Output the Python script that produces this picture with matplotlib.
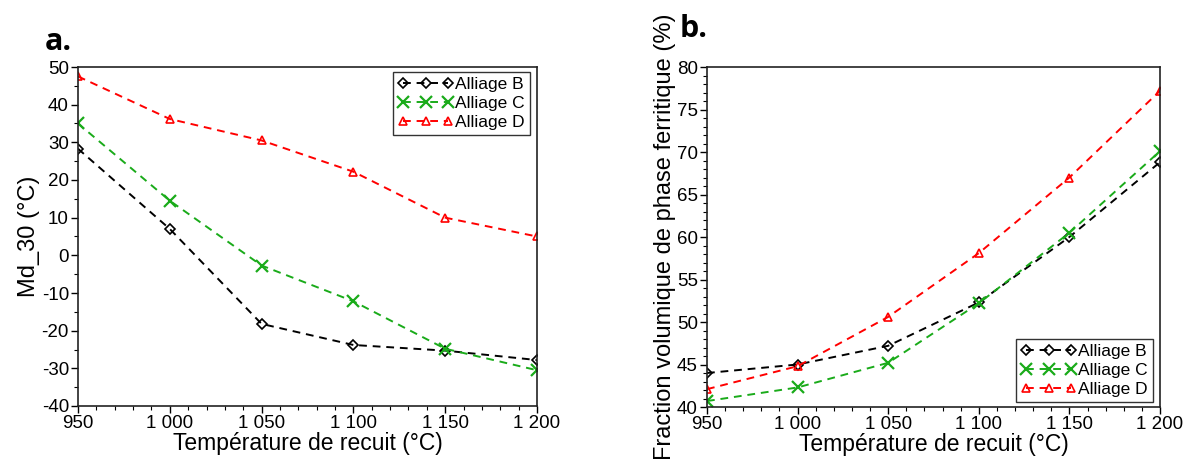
import matplotlib
matplotlib.use("Agg")
import matplotlib.pyplot as plt
from matplotlib.ticker import MultipleLocator, FuncFormatter

plt.rcParams["font.family"] = ["Liberation Sans", "DejaVu Sans"]
plt.rcParams["axes.unicode_minus"] = False

temps = [950, 1000, 1050, 1100, 1150, 1200]
series_names = ["Alliage B", "Alliage C", "Alliage D"]

# panel a: Md_30 (°C)
md30_b = [28.3, 7.0, -18.2, -23.8, -25.3, -27.8]
md30_c = [35.0, 14.5, -2.7, -12.2, -24.8, -30.5]
md30_d = [47.5, 36.2, 30.5, 22.2, 10.0, 5.0]

# panel b: fraction volumique de ferrite (%)
ferr_b = [44.0, 45.0, 47.2, 52.3, 60.0, 68.8]
ferr_c = [40.7, 42.3, 45.2, 52.2, 60.5, 70.1]
ferr_d = [42.1, 44.8, 50.6, 58.1, 67.0, 77.2]

STYLES = [
    dict(color="black", marker="D", ms=5.5, mfc="none", mew=1.2),
    dict(color="#1aab1a", marker="x", ms=9, mew=1.6),
    dict(color="red", marker="^", ms=6, mfc="none", mew=1.2),
]


def thousands(v, pos):
    v = int(round(v))
    if v >= 1000:
        return f"{v // 1000} {v % 1000:03d}"
    return str(v)


def draw(ax, data, ylim, ymaj, ymin, ylabel, legend_loc, legend_anchor):
    for vals, name, st in zip(data, series_names, STYLES):
        ax.plot(temps, vals, linestyle=(0, (4, 3)), lw=1.4, label=name, **st)
    ax.set_xlim(950, 1200)
    ax.set_ylim(*ylim)
    ax.xaxis.set_major_locator(MultipleLocator(50))
    ax.xaxis.set_minor_locator(MultipleLocator(10))
    ax.yaxis.set_major_locator(MultipleLocator(ymaj))
    ax.yaxis.set_minor_locator(MultipleLocator(ymin))
    ax.xaxis.set_major_formatter(FuncFormatter(thousands))
    ax.tick_params(which="major", direction="out", length=5, width=1, labelsize=13.5, pad=1.5)
    ax.tick_params(which="minor", direction="out", length=3, width=0.8)
    for s in ax.spines.values():
        s.set_linewidth(1.2)
        s.set_color("#222222")
    ax.set_xlabel("Température de recuit (°C)", fontsize=16.5, labelpad=0)
    ax.set_ylabel(ylabel, fontsize=17, labelpad=1)
    leg = ax.legend(loc=legend_loc, bbox_to_anchor=legend_anchor, numpoints=3,
                    handlelength=3.2, handletextpad=0.1, fontsize=12.5,
                    fancybox=False, edgecolor="#333333", framealpha=1,
                    borderpad=0.3, labelspacing=0.2, borderaxespad=0)
    leg.get_frame().set_linewidth(1.0)


fig = plt.figure(figsize=(11.84, 4.59), dpi=100)
ax_a = fig.add_axes([78 / 1184, 53 / 459, 459 / 1184, 339 / 459])
ax_b = fig.add_axes([707 / 1184, 52 / 459, 453 / 1184, 340 / 459])

draw(ax_a, [md30_b, md30_c, md30_d], (-40, 50), 10, 5, "Md_30 (°C)",
     "upper right", (0.985, 0.985))
draw(ax_b, [ferr_b, ferr_c, ferr_d], (40, 80), 5, 1,
     "Fraction volumique de phase ferritique (%)",
     "lower right", (0.985, 0.015))

fig.text(45 / 1184, 1 - 50 / 459, "a.", fontsize=22, fontweight="bold",
         family="Open Sans")
fig.text(680 / 1184, 1 - 37 / 459, "b.", fontsize=22, fontweight="bold",
         family="Open Sans")

fig.savefig("out.png", dpi=100)
